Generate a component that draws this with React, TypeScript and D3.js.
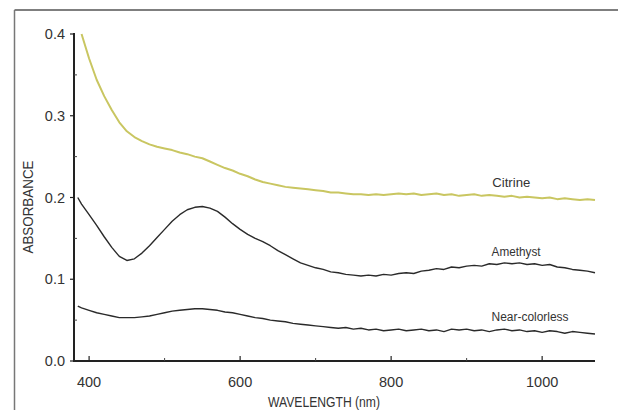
import React from 'react';
import * as d3 from 'd3';

// wavelength grid (nm) shared by the three spectra
const wavelengths = [385, 390, 400, 410, 420, 430, 440, 450, 460, 470, 480, 490, 500, 510, 520, 530, 540, 550, 560, 570, 580, 590, 600, 610, 620, 630, 640, 650, 660, 670, 680, 690, 700, 710, 720, 730, 740, 750, 760, 770, 780, 790, 800, 810, 820, 830, 840, 850, 860, 870, 880, 890, 900, 910, 920, 930, 940, 950, 960, 970, 980, 990, 1000, 1010, 1020, 1030, 1040, 1050, 1060, 1070];

const citrine = [null, 0.400, 0.370, 0.344, 0.324, 0.307, 0.292, 0.281, 0.274, 0.269, 0.265, 0.262, 0.260, 0.258, 0.255, 0.253, 0.250, 0.248, 0.244, 0.240, 0.236, 0.233, 0.229, 0.226, 0.222, 0.219, 0.217, 0.215, 0.213, 0.212, 0.211, 0.210, 0.209, 0.208, 0.206, 0.206, 0.205, 0.204, 0.204, 0.203, 0.204, 0.203, 0.204, 0.205, 0.204, 0.205, 0.203, 0.204, 0.205, 0.203, 0.204, 0.202, 0.203, 0.204, 0.202, 0.203, 0.202, 0.201, 0.202, 0.200, 0.201, 0.200, 0.199, 0.200, 0.198, 0.199, 0.198, 0.197, 0.198, 0.197];

const amethyst = [0.200, 0.192, 0.179, 0.166, 0.152, 0.139, 0.128, 0.123, 0.125, 0.132, 0.141, 0.151, 0.161, 0.171, 0.179, 0.185, 0.188, 0.189, 0.187, 0.183, 0.176, 0.168, 0.161, 0.155, 0.150, 0.146, 0.141, 0.135, 0.130, 0.125, 0.120, 0.117, 0.114, 0.112, 0.109, 0.108, 0.106, 0.105, 0.104, 0.105, 0.104, 0.106, 0.105, 0.107, 0.108, 0.107, 0.110, 0.111, 0.113, 0.112, 0.115, 0.114, 0.116, 0.117, 0.116, 0.119, 0.118, 0.120, 0.119, 0.120, 0.118, 0.119, 0.117, 0.118, 0.115, 0.114, 0.112, 0.111, 0.110, 0.108];

const nearColorless = [0.067, 0.065, 0.062, 0.059, 0.057, 0.055, 0.053, 0.053, 0.053, 0.054, 0.055, 0.057, 0.059, 0.061, 0.062, 0.063, 0.064, 0.064, 0.063, 0.062, 0.060, 0.059, 0.057, 0.055, 0.053, 0.052, 0.050, 0.049, 0.048, 0.046, 0.045, 0.044, 0.043, 0.042, 0.041, 0.040, 0.041, 0.039, 0.040, 0.038, 0.039, 0.037, 0.038, 0.039, 0.037, 0.038, 0.039, 0.037, 0.038, 0.036, 0.039, 0.038, 0.039, 0.037, 0.038, 0.036, 0.038, 0.039, 0.037, 0.038, 0.036, 0.037, 0.035, 0.037, 0.036, 0.034, 0.036, 0.035, 0.034, 0.033];

const seriesNames = ['Citrine', 'Amethyst', 'Near-colorless'];
const seriesColors = ['#c9c661', '#2a2a2a', '#2a2a2a'];
const seriesValues = [citrine, amethyst, nearColorless];
// label anchors in data units [wavelength, absorbance]
const labelPos = [[934, 0.213], [933, 0.129], [933, 0.049]];

const yMajor = [0, 0.1, 0.2, 0.3, 0.4];
const yMinor = [0.05, 0.15, 0.25, 0.35];
const xMajor = [400, 600, 800, 1000];
const xMinor = [500, 700, 900];

const font = "'Liberation Sans Narrow', 'Arial Narrow', 'Liberation Sans', sans-serif";

export default function App() {
  const width = 618, height = 410;
  const x = d3.scaleLinear().domain([380, 1070]).range([74, 595]);
  const y = d3.scaleLinear().domain([0, 0.4]).range([361, 34]);

  const line = d3.line<number | null>()
    .defined(d => d !== null)
    .x((d, i) => x(wavelengths[i]))
    .y(d => y(d as number));

  return (
    <svg width={width} height={height} style={{ position: 'absolute', left: 0, top: 0, background: '#fff' }}>
      {/* frame of the scanned figure */}
      <line x1={14.5} x2={618} y1={10} y2={10} stroke="#555" strokeWidth={1.5} />
      <line x1={14.5} x2={14.5} y1={10} y2={410} stroke="#777" strokeWidth={1.5} />

      {/* curves */}
      {seriesValues.map((vals, i) =>
        <path key={seriesNames[i]} d={line(vals) || ''} fill="none" stroke={seriesColors[i]}
          strokeWidth={i === 0 ? 2 : 1.4} strokeLinejoin="round" />
      )}
      {seriesNames.map((name, i) =>
        <text key={name} x={x(labelPos[i][0])} y={y(labelPos[i][1])} fontFamily={font} fontSize={12.5}
          fill="#333" textLength={[38, 49, 77][i]} lengthAdjust="spacingAndGlyphs">{name}</text>
      )}

      {/* y axis */}
      <line x1={74} x2={74} y1={y(0.4) - 1} y2={y(0) + 1} stroke="#222" strokeWidth={2} />
      {yMajor.map(t =>
        <g key={t}>
          <line x1={70} x2={74} y1={y(t)} y2={y(t)} stroke="#222" strokeWidth={1.2} />
          <text x={65} y={y(t)} dy="0.35em" textAnchor="end" fontFamily={font} fontSize={14.5} fill="#333">{d3.format('.1f')(t)}</text>
        </g>
      )}
      {yMinor.map(t =>
        <line key={t} x1={74} x2={77} y1={y(t)} y2={y(t)} stroke="#444" strokeWidth={1} />
      )}
      <text transform={`translate(33,${207}) rotate(-90)`} textAnchor="middle" fontFamily={font} fontSize={14} fill="#333"
        textLength={93} lengthAdjust="spacingAndGlyphs">ABSORBANCE</text>

      {/* x axis */}
      <line x1={73} x2={595} y1={361} y2={361} stroke="#222" strokeWidth={2} />
      {xMajor.map(t =>
        <g key={t}>
          <line x1={x(t)} x2={x(t)} y1={361} y2={356} stroke="#222" strokeWidth={1.2} />
          <text x={x(t)} y={387} textAnchor="middle" fontFamily={font} fontSize={14.5} fill="#333">{t}</text>
        </g>
      )}
      {xMinor.map(t =>
        <line key={t} x1={x(t)} x2={x(t)} y1={361} y2={358} stroke="#444" strokeWidth={1} />
      )}
      <text x={324} y={407} textAnchor="middle" fontFamily={font} fontSize={14.5} fill="#333"
        textLength={112} lengthAdjust="spacingAndGlyphs">WAVELENGTH (nm)</text>
    </svg>
  );
}
